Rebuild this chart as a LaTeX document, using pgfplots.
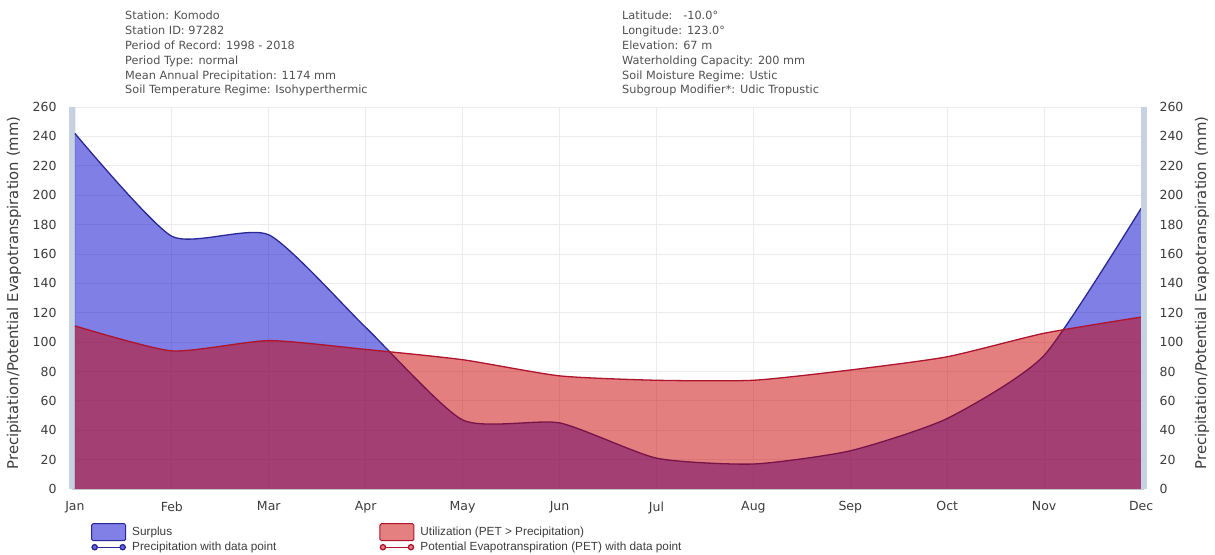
\documentclass[border=0pt]{standalone}
\usepackage{pgfplots}
\pgfplotsset{compat=1.18}
\usepackage{fontspec}
\setmainfont{DejaVu Sans}
\newfontfamily\legendfont{Liberation Sans}

\definecolor{precfill}{RGB}{0,0,205}
\definecolor{petfill}{RGB}{200,0,0}
\definecolor{precline}{RGB}{40,40,150}
\definecolor{petline}{RGB}{175,20,45}
\definecolor{edgebar}{RGB}{196,210,226}
\definecolor{gridc}{RGB}{236,236,236}
\definecolor{txt}{RGB}{60,60,60}
\definecolor{hdr}{RGB}{80,80,80}

% monthly means: precipitation and potential evapotranspiration (mm)
\pgfplotstableread{
m  prec pet
0  242  111
1  172  94
2  173  101
3  110  95
4  47   88
5  45   77
6  21   74
7  17   74
8  26   81
9  48   90
10 91   106
11 191  117
}\climate

\begin{document}
\begin{tikzpicture}[x=1bp,y=1bp]
\useasboundingbox (0,0) rectangle (1215,555);

% station information
\foreach \t [count=\i from 0] in {Station: Komodo, Station ID: 97282, Period of Record: 1998 - 2018, Period Type: normal, Mean Annual Precipitation: 1174 mm, Soil Temperature Regime: Isohyperthermic}
  \node[anchor=base west, inner sep=0, text=hdr, font=\fontsize{11.3bp}{13bp}\selectfont] at (125, 535-14.8*\i) {\t};
\foreach \t [count=\i from 0] in {Latitude:\ \ \ -10.0°, Longitude: 123.0°, Elevation: 67 m, Waterholding Capacity: 200 mm, Soil Moisture Regime: Ustic, Subgroup Modifier*: Udic Tropustic}
  \node[anchor=base west, inner sep=0, text=hdr, font=\fontsize{11.3bp}{13bp}\selectfont] at (622, 535-14.8*\i) {\t};

\begin{axis}[
  at={(72bp,66bp)}, anchor=south west,
  scale only axis, width=1072bp, height=382bp,
  xmin=-0.03, xmax=11.03, ymin=0, ymax=260,
  xtick={0,...,11},
  xticklabels={Jan,Feb,Mar,Apr,May,Jun,Jul,Aug,Sep,Oct,Nov,Dec},
  ytick={0,20,...,260},
  axis x line*=bottom, axis y line*=left,
  x axis line style={draw=gray!45, line width=0.8bp},
  y axis line style={draw=edgebar, line width=6bp},
  major tick length=0pt,
  grid=major, major grid style={draw=gridc, line width=0.8bp},
  tick label style={text=txt, font=\fontsize{12.5bp}{14bp}\selectfont},
  /pgf/number format/assume math mode=true,
  yticklabel style={xshift=-12bp},
  xticklabel style={yshift=-9bp},
  legend columns=2,
  legend cell align=left,
  legend style={at={(0.0177,-0.089)}, anchor=north west, draw=none, fill=none,
    inner sep=0pt, row sep=-1bp,
    font=\legendfont\fontsize{11.8bp}{13bp}\selectfont, text=txt,
    /tikz/every even column/.append style={column sep=101bp}},
]
% surplus / precipitation
\addplot[draw=none, fill=precfill, fill opacity=0.5, smooth, tension=0.36, forget plot]
  table[x=m, y=prec]{\climate} \closedcycle;
\addplot[draw=precline, line width=1.3bp, smooth, tension=0.36, forget plot]
  table[x=m, y=prec]{\climate};
% utilization / PET
\addplot[draw=none, fill=petfill, fill opacity=0.5, smooth, tension=0.36, forget plot]
  table[x=m, y=pet]{\climate} \closedcycle;
\addplot[draw=petline, line width=1.3bp, smooth, tension=0.36, forget plot]
  table[x=m, y=pet]{\climate};

\addlegendimage{legend image code/.code={\draw[draw=precline, fill=precfill!50, rounded corners=1.5bp, line width=1bp] (0bp,-8.5bp) rectangle (34bp,8.5bp);}}
\addlegendentry{\hspace{4bp}Surplus}
\addlegendimage{legend image code/.code={\draw[draw=petline, fill=petfill!50, rounded corners=1.5bp, line width=1bp] (0bp,-8.5bp) rectangle (34bp,8.5bp);}}
\addlegendentry{\hspace{4bp}Utilization (PET > Precipitation)}
\addlegendimage{legend image code/.code={\draw[draw=precline, line width=1.3bp] plot[mark=*, mark size=2.6bp, mark options={fill=precfill!60, draw=precline}] coordinates {(3bp,0bp) (31bp,0bp)};}}
\addlegendentry{\hspace{4bp}Precipitation with data point}
\addlegendimage{legend image code/.code={\draw[draw=petline, line width=1.3bp] plot[mark=*, mark size=2.6bp, mark options={fill=petfill!50, draw=petline}] coordinates {(3bp,0bp) (31bp,0bp)};}}
\addlegendentry{\hspace{4bp}Potential Evapotranspiration (PET) with data point}
\end{axis}

% right-hand scale
\begin{axis}[
  at={(72bp,66bp)}, anchor=south west,
  scale only axis, width=1072bp, height=382bp,
  xmin=-0.03, xmax=11.03, ymin=0, ymax=260,
  ytick={0,20,...,260},
  axis y line*=right, axis x line=none,
  y axis line style={draw=edgebar, line width=6bp},
  major tick length=0pt,
  tick label style={text=txt, font=\fontsize{12.5bp}{14bp}\selectfont},
  /pgf/number format/assume math mode=true,
  yticklabel style={xshift=12bp},
]
\end{axis}

\node[rotate=90, text=txt, font=\fontsize{14.8bp}{16bp}\selectfont] at (14,262) {Precipitation/Potential Evapotranspiration (mm)};
\node[rotate=90, text=txt, font=\fontsize{14.8bp}{16bp}\selectfont] at (1202,262) {Precipitation/Potential Evapotranspiration (mm)};
\end{tikzpicture}
\end{document}
